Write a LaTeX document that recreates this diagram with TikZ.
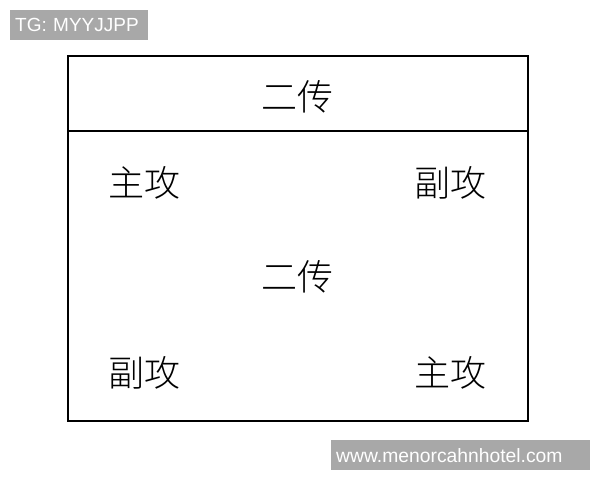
\documentclass[tikz,border=0pt]{standalone}
\usepackage{fontspec}
\newfontfamily\cjk{Noto Sans CJK SC Light}
\setsansfont{Liberation Sans}
\definecolor{wmgrey}{HTML}{A8A8A8}
\begin{document}
\begin{tikzpicture}[x=1pt,y=-1pt,
  cn/.style={font=\cjk\fontsize{36}{36}\selectfont, inner sep=0pt},
  wm/.style={fill=wmgrey, text=white, inner sep=0pt, anchor=north west}]
\useasboundingbox (0,0) rectangle (600,480);
\fill[white] (0,0) rectangle (600,480);
\node[draw=black, line width=2.2pt, minimum width=460pt, minimum height=365pt, inner sep=0pt, anchor=north west] (frame) at (67,55) {};
\coordinate (sepL) at (67,131);
\coordinate (sepR) at (527,131);
\draw[line width=1.2pt] (sepL) -- (sepR);
\node[cn] (t1) at (297,97) {二传};
\node[cn] (zg1) at (144,183) {主攻};
\node[cn] (fg1) at (450,183) {副攻};
\node[cn] (t2) at (297,277) {二传};
\node[cn] (fg2) at (144,373) {副攻};
\node[cn] (zg2) at (450,373) {主攻};
\node[wm, font=\sffamily\fontsize{19}{19}\selectfont, minimum width=138pt, minimum height=30pt, text width=134pt, align=left] (wm1) at (10,10) {\hspace*{3pt}TG: MYYJJPP};
\node[wm, font=\sffamily\fontsize{19.3}{19.3}\selectfont, minimum width=259pt, minimum height=30pt, text width=257pt, align=left] (wm2) at (331,440) {\hspace*{4pt}www.menorcahnhotel.com};
\end{tikzpicture}
\end{document}
